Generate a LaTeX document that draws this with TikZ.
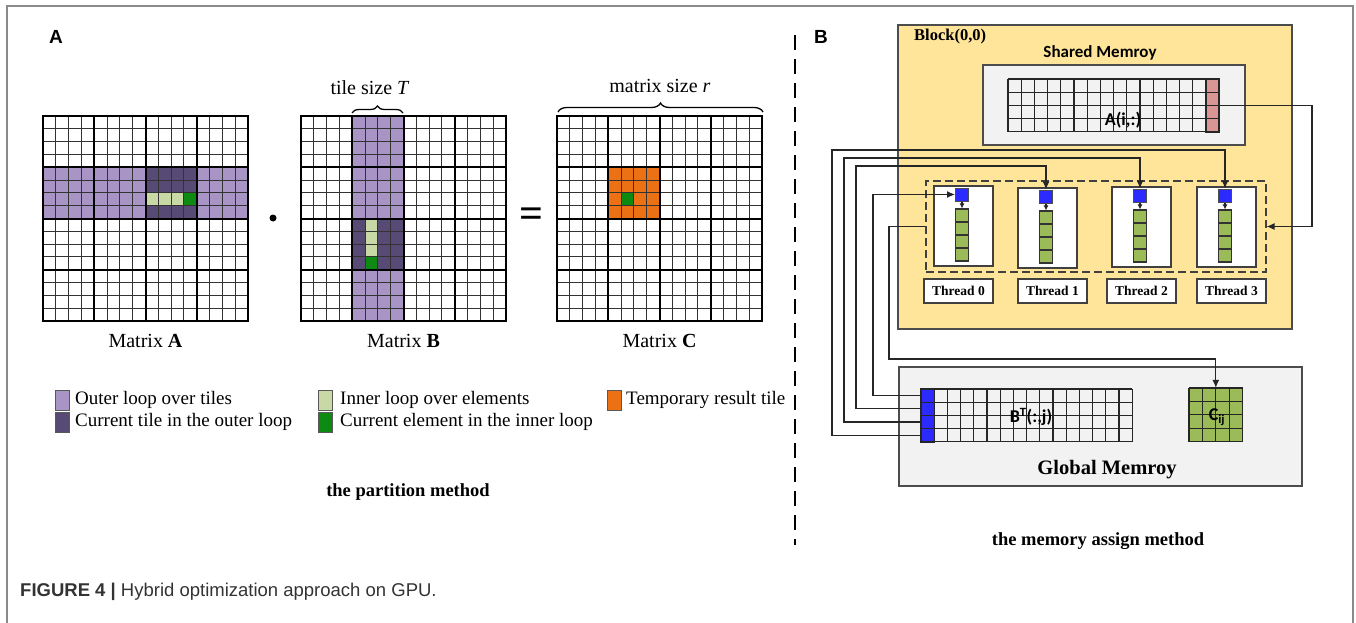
\documentclass[tikz,border=0pt]{standalone}
\usepackage{fontspec}
\setmainfont{Liberation Serif}
\setsansfont{Liberation Sans}
\newfontfamily\calfont{Carlito}
\usetikzlibrary{arrows.meta,decorations.pathreplacing,calc}

\definecolor{outerpurple}{HTML}{A895C5}
\definecolor{tilepurple}{HTML}{574A74}
\definecolor{innergreen}{HTML}{C9D9A5}
\definecolor{elemgreen}{HTML}{0E8A12}
\definecolor{resorange}{HTML}{EC7014}
\definecolor{blockyellow}{HTML}{FFE599}
\definecolor{memgray}{HTML}{F2F2F2}
\definecolor{rowpink}{HTML}{D99694}
\definecolor{regblue}{HTML}{2B2BFF}
\definecolor{stackgreen}{HTML}{9BBB59}
\definecolor{framegray}{HTML}{8A8A8A}
\definecolor{captext}{HTML}{333333}

% fill a block of cells in a 16x16 matrix: colour, x0, y0, first col, first row, cols, rows
\newcommand\cellfill[7]{\fill[#1] ({#2+#4*12.8125},{#3+#5*12.8125}) rectangle ++({#6*12.8125},{#7*12.8125});}

% thin cell lines and thick tile lines of a 16x16 matrix with 4x4 tiles
\newcommand\tilematrix[2]{%
  \foreach \gi in {1,...,15}{%
    \draw[cellline] ({#1+\gi*12.8125},#2) -- ++(0,205);
    \draw[cellline] (#1,{#2+\gi*12.8125}) -- ++(205,0);
  }%
  \foreach \gi in {4,8,12}{%
    \draw[tileline] ({#1+\gi*12.8125},#2) -- ++(0,205);
    \draw[tileline] (#1,{#2+\gi*12.8125}) -- ++(205,0);
  }%
}

% plain grid: x0, y0, cols, rows, cell size, style
\newcommand\rowgrid[6]{%
  \foreach \gi in {0,...,#3}{\draw[#6] ({#1+\gi*#5},#2) -- ++(0,{#4*#5});}%
  \foreach \gj in {0,...,#4}{\draw[#6] (#1,{#2+\gj*#5}) -- ++({#3*#5},0);}%
}

\begin{document}
\begin{tikzpicture}[x=1pt,y=-1pt,
  cellline/.style={draw=black!80, line width=0.9pt},
  tileline/.style={draw=black, line width=2pt},
  mframe/.style={draw=black, line width=2.6pt, minimum size=205pt, inner sep=0pt},
  lbl/.style={font=\fontsize{20}{24}\selectfont},
  legtext/.style={anchor=west, inner sep=0pt, font=\fontsize{19}{22}\selectfont},
  swatch/.style={draw=black!65, line width=0.8pt, minimum width=14pt, minimum height=20pt, inner sep=0pt},
  bracestyle/.style={decorate, line width=1.3pt},
  heading/.style={font=\bfseries\fontsize{18.5}{22}\selectfont},
  blockbox/.style={draw=black!70, fill=blockyellow, line width=1.3pt, inner sep=0pt},
  membox/.style={draw=black!70, fill=memgray, line width=1.3pt, inner sep=0pt},
  gridline/.style={draw=black!85, line width=1.1pt},
  tbox/.style={draw=black!75, fill=white, line width=1.2pt, minimum width=59pt, minimum height=80pt, inner sep=0pt},
  tlabel/.style={draw=black!75, fill=white, line width=1.2pt, minimum width=69pt, minimum height=24pt, inner sep=0pt, font=\bfseries\fontsize{13.5}{16}\selectfont},
  regsq/.style={draw=black!70, fill=regblue, line width=1pt, minimum size=13pt, inner sep=0pt},
  stackbox/.style={draw=black!80, fill=stackgreen, line width=1.1pt, minimum width=13pt, minimum height=52pt, inner sep=0pt},
  groupbox/.style={draw=black!75, dash pattern=on 8pt off 4pt, line width=1.3pt, minimum width=340pt, minimum height=91pt, inner sep=0pt},
  wire/.style={draw=black!85, line width=1.1pt},
  tip/.style={-{Latex[length=8pt,width=7pt]}},
  smalltip/.style={-{Latex[length=5pt,width=5pt]}},
  calbold/.style={font=\calfont\bfseries\fontsize{18}{21}\selectfont}
]
\useasboundingbox (0,0) rectangle (1356,623);

% outer frame, open at the bottom
\draw[framegray, line width=1.6pt] (7,623) -- (7,6) -- (1353,6) -- (1353,623);

% ---------------- panel A ----------------
\node[font=\sffamily\bfseries\fontsize{19}{22}\selectfont] (labA) at (56,37) {A};

% Matrix A
\cellfill{outerpurple}{43}{116}{0}{4}{16}{4}
\cellfill{tilepurple}{43}{116}{8}{4}{4}{4}
\cellfill{innergreen}{43}{116}{8}{6}{3}{1}
\cellfill{elemgreen}{43}{116}{11}{6}{1}{1}
\tilematrix{43}{116}
\node[mframe] (mA) at (145.5,218.5) {};

% Matrix B
\cellfill{outerpurple}{301}{116}{4}{0}{4}{16}
\cellfill{tilepurple}{301}{116}{4}{8}{4}{4}
\cellfill{innergreen}{301}{116}{5}{8}{1}{3}
\cellfill{elemgreen}{301}{116}{5}{11}{1}{1}
\tilematrix{301}{116}
\node[mframe] (mB) at (403.5,218.5) {};

% Matrix C
\cellfill{resorange}{557}{116}{4}{4}{4}{4}
\cellfill{elemgreen}{557}{116}{5}{6}{1}{1}
\tilematrix{557}{116}
\node[mframe] (mC) at (659.5,218.5) {};

% operators
\node[circle, fill=black, inner sep=0pt, minimum size=7pt] (dot) at (273,218) {};
\node[font=\bfseries\fontsize{42}{46}\selectfont, inner sep=0pt] (eq) at (531,218) {=};

% braces
\draw[bracestyle, decoration={brace, amplitude=7pt}] (352,113) -- (403,113);
\node[lbl] (tilesize) at (370,88) {tile size \textit{T}};
\draw[bracestyle, decoration={brace, amplitude=9pt}] (558,112) -- (763,112);
\node[lbl] (matsize) at (660,86) {matrix size \textit{r}};

% matrix names
\node[lbl] (nameA) at (145.5,341) {Matrix \textbf{A}};
\node[lbl] (nameB) at (403.5,341) {Matrix \textbf{B}};
\node[lbl] (nameC) at (659.5,341) {Matrix \textbf{C}};

% legend
\node[swatch, fill=outerpurple] (sw1) at (62,400) {};
\node[legtext] (lt1) at (75,400) {Outer loop over tiles};
\node[swatch, fill=tilepurple] (sw2) at (62,422) {};
\node[legtext] (lt2) at (75,422) {Current tile in the outer loop};
\node[swatch, fill=innergreen] (sw3) at (325,400) {};
\node[legtext] (lt3) at (340,400) {Inner loop over elements};
\node[swatch, fill=elemgreen] (sw4) at (325,422) {};
\node[legtext] (lt4) at (340,422) {Current element in the inner loop};
\node[swatch, fill=resorange] (sw5) at (614,400) {};
\node[legtext] (lt5) at (626,400) {Temporary result tile};

\node[heading] (partition) at (408,492) {the partition method};

% divider
\draw[black, line width=2pt, dash pattern=on 15pt off 9pt] (795,35) -- (795,545);

% ---------------- panel B ----------------
\node[font=\sffamily\bfseries\fontsize{19}{22}\selectfont] (labB) at (821,37) {B};

% thread block
\node[blockbox, minimum width=394pt, minimum height=304pt] (block) at (1095,177) {};
\node[anchor=west, inner sep=0pt, font=\bfseries\fontsize{16.5}{19}\selectfont] (blockname) at (914,37) {Block(0,0)};
\node[font=\calfont\bfseries\fontsize{17}{20}\selectfont] (sharedname) at (1100,53) {Shared Memroy};
\node[membox, minimum width=262pt, minimum height=80pt] (shared) at (1114,105) {};

% row of A held in shared memory
\node[inner sep=0pt, minimum width=211.2pt, minimum height=52.8pt] (arow) at (1113.6,105.4) {};
\node[fill=rowpink, inner sep=0pt, minimum width=13.2pt, minimum height=52.8pt] (pinkcol) at (1212.6,105.4) {};
\rowgrid{1008}{79}{16}{4}{13.2}{gridline}
\draw[black!85, line width=2pt] (pinkcol.north west) rectangle (pinkcol.south east);
\node[calbold] (alabel) at (1123,120) {A(i,:)};

% threads
\node[groupbox] (group) at (1096,226.5) {};
\foreach \k/\cx/\ty in {0/963.5/186, 1/1047.5/188, 2/1141.5/187, 3/1226.5/187}{%
  \node[tbox] (tb\k) at (\cx,{\ty+40}) {};
  \node[regsq] (blue\k) at ({\cx-1.5},{\ty+8.5}) {};
  \node[stackbox] (stack\k) at ({\cx-1.5},{\ty+49}) {};
  \foreach \s in {1,2,3}{\draw[draw=black!80, line width=1.1pt] ({\cx-8},{\ty+23+13*\s}) -- ++(13,0);}
  \draw[wire, smalltip] (blue\k.south) -- (stack\k.north);
}
\foreach \k/\cx in {0/958.5, 1/1052.5, 2/1141.5, 3/1231.5}{%
  \node[tlabel] (tl\k) at (\cx,291) {Thread \k};
}

% global memory
\node[membox, minimum width=403pt, minimum height=119pt] (global) at (1100.5,426.5) {};
\node[inner sep=0pt, minimum width=211.2pt, minimum height=52.8pt] (btgrid) at (1026.6,415.4) {};
\node[fill=regblue, inner sep=0pt, minimum width=13.2pt, minimum height=52.8pt] (bluecol) at (927.6,415.4) {};
\rowgrid{921}{389}{16}{4}{13.2}{gridline}
\draw[black!85, line width=1.6pt] (bluecol.north west) rectangle (bluecol.south east);
\node[calbold] (btlabel) at (1031,417) {B\textsuperscript{T}(:,j)};

\node[fill=stackgreen, inner sep=0pt, minimum size=53.6pt] (cij) at (1215.8,414.8) {};
\rowgrid{1189}{388}{4}{4}{13.4}{gridline}
\node[calbold] (clabel) at (1217,417) {C\textsubscript{ij}};

\node[font=\bfseries\fontsize{20.5}{24}\selectfont] (globalname) at (1107,470) {Global Memroy};

% rows of B^T feeding the threads
\coordinate (bt0) at (921,395.6);
\coordinate (bt1) at (921,408.8);
\coordinate (bt2) at (921,422);
\coordinate (bt3) at (921,435.2);
\coordinate (lane0) at (873,0);
\coordinate (bend1) at (856,166);
\coordinate (bend2) at (844,158);
\coordinate (bend3) at (832,150);
\coordinate (bend0) at (blue0.west -| lane0);
\draw[wire, tip] (bt0) -| (bend0) -- (blue0.west);
\draw[wire, tip] (bt1) -| (bend1) -| (blue1.north);
\draw[wire, tip] (bt2) -| (bend2) -| (blue2.north);
\draw[wire, tip] (bt3) -| (bend3) -| (blue3.north);

% thread results written back to C_ij
\coordinate (bendc) at (889,359);
\draw[wire, tip] (group.west) -| (bendc) -| (cij.north);

% row of A broadcast to the threads
\coordinate (lanea) at (1312,0);
\coordinate (benda) at (pinkcol.east -| lanea);
\draw[wire, tip] (pinkcol.east) -- (benda) |- (group.east);

\node[heading] (memassign) at (1098,541) {the memory assign method};

% caption
\node[anchor=west, inner sep=0pt, text=captext, font=\sffamily\fontsize{18.5}{22}\selectfont] (caption) at (20,592) {\textbf{FIGURE 4 |} Hybrid optimization approach on GPU.};
\end{tikzpicture}
\end{document}
